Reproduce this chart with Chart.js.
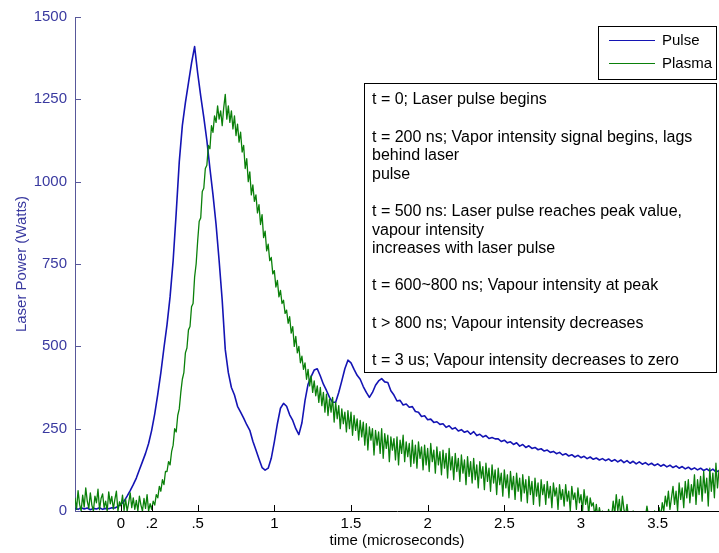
<!DOCTYPE html>
<html>
<head>
<meta charset="utf-8">
<script src="https://cdn.jsdelivr.net/npm/chart.js"></script>
<style>
  body { margin: 0; background: #fff; }
  canvas { display: block; }
</style>
</head>
<body>
<canvas id="laser_chart" width="719" height="553"></canvas>
<script>
// sampling grids of the traces (microseconds)
const tStart = -0.3;
const pulseStep = 0.02;
const plasmaStep = 0.01;

// Pulse trace (W), one value per 0.02 us from -0.3
const pulse = [
  8, 5, 10, 6, 9, 4, 8, 6, 10, 5,
  8, 7, 10, 9, 14, 20, 30, 45, 62, 80,
  100, 125, 150, 175, 205, 245, 295, 355, 420, 495,
  565, 650, 760, 905, 1060, 1170, 1240, 1300, 1360, 1410,
  1330, 1260, 1195, 1125, 1040, 960, 870, 760, 640, 490,
  420, 375, 352, 318, 300, 282, 262, 245, 212, 185,
  158, 132, 124, 130, 160, 210, 265, 312, 327, 318,
  292, 275, 250, 232, 268, 335, 385, 408, 428, 432,
  410, 385, 366, 345, 330, 330, 360, 395, 432, 458,
  450, 430, 412, 400, 378, 360, 345, 360, 382, 395,
  402, 392, 390, 365, 352, 334, 336, 322, 325, 315,
  317, 302, 300, 287, 289, 277, 279, 269, 271, 263,
  265, 254, 259, 249, 253, 243, 247, 239, 243, 233,
  241, 229, 233, 225, 229, 220, 223, 219, 219, 211,
  215, 207, 210, 202, 207, 197, 202, 193, 198, 190,
  193, 186, 189, 182, 185, 178, 181, 174, 178, 170,
  174, 167, 171, 164, 169, 162, 166, 159, 164, 157,
  161, 155, 159, 153, 158, 151, 156, 149, 155, 147,
  153, 145, 151, 143, 149, 142, 147, 140, 145, 138,
  143, 136, 141, 134, 139, 132, 137, 130, 135, 128,
  133, 126, 131, 125, 130, 123, 128, 121, 127, 119,
  122
];

// Plasma trace (noisy), one value per 0.01 us from -0.3
const plasma = [
  40, 5, 62, 20, 0, 48, 12, 70, 30, 8,
  55, 18, 0, 45, 25, 66, 4, 38, 52, 10,
  30, 0, 58, 22, 44, 6, 35, 60, 0, 28,
  15, 48, 2, 36, 0, 25, 55, 10, 40, 5,
  32, 0, 45, 18, 0, 38, 8, 50, 0, 22,
  5, 30, 18, 50, 40, 75, 60, 95, 80, 120,
  120, 150, 140, 180, 200, 250, 240, 290, 310, 360,
  400, 420, 480, 495, 550, 560, 620, 630, 710, 750,
  820, 880, 890, 970, 980, 1040, 1050, 1110, 1100, 1170,
  1150, 1200, 1180, 1230, 1190, 1215, 1170, 1225, 1265, 1190,
  1230, 1180, 1215, 1160, 1200, 1140, 1175, 1120, 1150, 1090,
  1110, 1040, 1070, 1000, 1030, 960, 990, 940, 960, 905,
  930, 870, 900, 830, 850, 790, 810, 760, 770, 720,
  730, 680, 700, 650, 670, 630, 640, 600, 610, 570,
  590, 540, 560, 500, 530, 480, 500, 450, 470, 430,
  450, 400, 430, 380, 410, 360, 395, 350, 380, 330,
  375, 320, 360, 300, 355, 290, 340, 300, 345, 270,
  330, 280, 320, 250, 310, 265, 300, 240, 305, 250,
  300, 230, 290, 245, 280, 215, 275, 225, 270, 200,
  265, 185, 255, 215, 250, 170, 245, 200, 240, 175,
  250, 160, 235, 190, 230, 150, 225, 185, 220, 155,
  225, 140, 215, 175, 230, 150, 210, 165, 205, 135,
  215, 145, 200, 130, 210, 160, 195, 125, 200, 140,
  190, 120, 205, 150, 185, 115, 195, 140, 180, 110,
  185, 130, 175, 100, 190, 125, 165, 95, 175, 120,
  160, 90, 170, 115, 155, 80, 165, 105, 150, 85,
  160, 95, 140, 70, 150, 100, 135, 65, 145, 90,
  130, 60, 140, 85, 125, 50, 130, 80, 115, 45,
  125, 70, 110, 40, 120, 65, 105, 35, 115, 60,
  100, 30, 110, 55, 95, 25, 105, 50, 90, 20,
  100, 45, 85, 15, 95, 50, 80, 20, 90, 40,
  75, 10, 85, 45, 70, 5, 80, 35, 65, 15,
  80, 30, 60, 0, 75, 35, 55, 5, 70, 25,
  50, 0, 65, 20, 45, -10, 40, 15, 25, -15,
  20, -20, 10, -15, 0, -20, -10, -25, 5, -20,
  -15, 30, -10, 50, 0, 35, -20, 45, 5, -15,
  20, -20, -10, -25, 0, -20, -15, -25, -10, -20,
  -25, -10, -20, 15, -15, -25, -10, -20, 0, -25,
  -15, 10, -20, 25, 0, 45, 15, 60, 5, 40,
  75, 20, 60, 0, 85, 35, 70, 10, 90, 40,
  95, 25, 80, 45, 110, 20, 95, 50, 105, 30,
  120, 55, 100, 15, 130, 60, 115, 40, 145, 70,
  125
];

const xTicks = [0, 0.2, 0.5, 1, 1.5, 2, 2.5, 3, 3.5];
const xTickLabels = ['0', '.2', '.5', '1', '1.5', '2', '2.5', '3', '3.5'];
const yTicks = [0, 250, 500, 750, 1000, 1250, 1500];

const notes = [
  't = 0; Laser pulse begins',
  '',
  't = 200 ns; Vapor intensity signal begins, lags',
  'behind laser',
  'pulse',
  '',
  't = 500 ns: Laser pulse reaches peak value,',
  'vapour intensity',
  'increases with laser pulse',
  '',
  't = 600~800 ns; Vapour intensity at peak',
  '',
  't > 800 ns; Vapour intensity decreases',
  '',
  't = 3 us; Vapour intensity decreases to zero'
];

const pulseColor = '#1414b4';
const plasmaColor = '#0a800a';
const yAxisColor = '#58589a';
const yTextColor = '#3a3aa0';
const fontFamily = '"Liberation Sans", Arial, sans-serif';

const toPoints = (vals, step) => vals.map((v, i) => ({ x: tStart + step * i, y: v }));

// matlab style inner ticks, legend box and the text box
const extrasPlugin = {
  id: 'extras',
  afterDraw(chart) {
    const ctx = chart.ctx;
    const area = chart.chartArea;
    const xs = chart.scales.x;
    const ys = chart.scales.y;
    ctx.save();
    ctx.lineWidth = 1;

    ctx.strokeStyle = yAxisColor;
    ys.ticks.forEach(t => {
      const py = Math.round(ys.getPixelForValue(t.value)) + 0.5;
      ctx.beginPath();
      ctx.moveTo(area.left, py);
      ctx.lineTo(area.left + 6, py);
      ctx.stroke();
    });
    ctx.strokeStyle = '#000';
    xs.ticks.forEach(t => {
      const px = Math.round(xs.getPixelForValue(t.value)) + 0.5;
      ctx.beginPath();
      ctx.moveTo(px, area.bottom);
      ctx.lineTo(px, area.bottom - 6);
      ctx.stroke();
    });

    // legend
    const lx = 598, ly = 26, lw = 119, lh = 54;
    ctx.fillStyle = '#fff';
    ctx.fillRect(lx, ly, lw, lh);
    ctx.strokeStyle = '#000';
    ctx.strokeRect(lx + 0.5, ly + 0.5, lw - 1, lh - 1);
    ctx.font = '15px ' + fontFamily;
    ctx.textBaseline = 'middle';
    chart.data.datasets.forEach((ds, i) => {
      const yy = ly + 14.5 + i * 23;
      ctx.strokeStyle = ds.borderColor;
      ctx.beginPath();
      ctx.moveTo(lx + 11, yy);
      ctx.lineTo(lx + 57, yy);
      ctx.stroke();
      ctx.fillStyle = '#000';
      ctx.fillText(ds.label, lx + 64, yy);
    });

    // notes box
    const bx = 364, by = 83, bw = 353, bh = 290;
    ctx.fillStyle = '#fff';
    ctx.fillRect(bx, by, bw, bh);
    ctx.strokeStyle = '#000';
    ctx.strokeRect(bx + 0.5, by + 0.5, bw - 1, bh - 1);
    ctx.font = '16px ' + fontFamily;
    ctx.fillStyle = '#000';
    notes.forEach((line, i) => {
      if (line) ctx.fillText(line, bx + 8, by + 17 + i * 18.6);
    });
    ctx.restore();
  }
};

new Chart(document.getElementById('laser_chart'), {
  type: 'line',
  data: {
    datasets: [{
      label: 'Pulse',
      data: toPoints(pulse, pulseStep),
      borderColor: pulseColor,
      borderWidth: 1.6,
      pointRadius: 0,
      tension: 0,
      borderJoinStyle: 'round',
      order: 2
    }, {
      label: 'Plasma',
      data: toPoints(plasma, plasmaStep),
      borderColor: plasmaColor,
      borderWidth: 1.3,
      pointRadius: 0,
      tension: 0,
      borderJoinStyle: 'round',
      order: 1
    }]
  },
  options: {
    responsive: false,
    animation: false,
    layout: { padding: { top: 15, right: 0, left: 0, bottom: 0 } },
    plugins: {
      legend: { display: false },
      tooltip: { enabled: false }
    },
    scales: {
      x: {
        type: 'linear',
        min: -0.3,
        max: 3.9,
        afterBuildTicks: scale => { scale.ticks = xTicks.map(v => ({ value: v })); },
        afterFit: scale => { scale.height = 42; },
        ticks: {
          autoSkip: false,
          maxRotation: 0,
          padding: 4,
          color: '#000',
          font: { family: fontFamily, size: 15 },
          callback: v => xTickLabels[xTicks.indexOf(v)]
        },
        grid: { display: false, drawTicks: false },
        border: { color: '#000', width: 1 },
        title: {
          display: true,
          text: 'time (microseconds)',
          color: '#000',
          font: { family: fontFamily, size: 15 },
          padding: { top: 0, bottom: 3 }
        }
      },
      y: {
        min: 0,
        max: 1500,
        afterBuildTicks: scale => { scale.ticks = yTicks.map(v => ({ value: v })); },
        afterFit: scale => { scale.width = 75; },
        ticks: {
          padding: 8,
          color: yTextColor,
          font: { family: fontFamily, size: 15 },
          callback: v => String(v)
        },
        grid: { display: false, drawTicks: false },
        border: { color: yAxisColor, width: 1 },
        title: {
          display: true,
          text: 'Laser Power (Watts)',
          color: yTextColor,
          font: { family: fontFamily, size: 15 },
          padding: { top: 13, bottom: 0 }
        }
      }
    }
  },
  plugins: [extrasPlugin]
});
</script>
</body>
</html>
